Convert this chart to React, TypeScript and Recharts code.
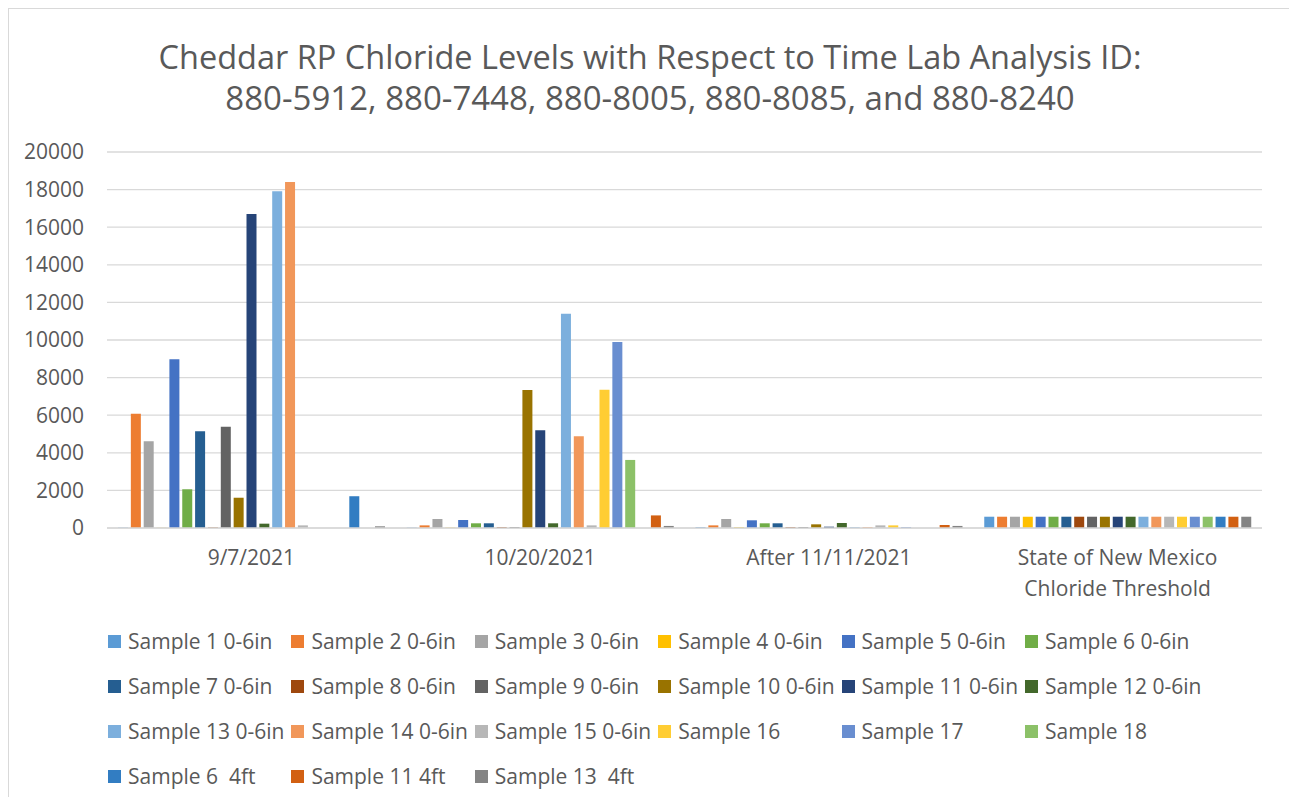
import React from "react";
import { BarChart, Bar, XAxis, YAxis, CartesianGrid, Legend } from "recharts";

const categories = ["9/7/2021", "10/20/2021", "After 11/11/2021", "State of New Mexico Chloride Threshold"];
const yTicks = [0, 2000, 4000, 6000, 8000, 10000, 12000, 14000, 16000, 18000, 20000];

const sample1 = [20, 20, 50, 600];
const sample2 = [6080, 140, 140, 600];
const sample3 = [4610, 480, 480, 600];
const sample4 = [10, 20, 40, 600];
const sample5 = [8970, 425, 410, 600];
const sample6 = [2060, 250, 250, 600];
const sample7 = [5140, 250, 250, 600];
const sample8 = [30, 50, 50, 600];
const sample9 = [5390, 50, 50, 600];
const sample10 = [1610, 7340, 195, 600];
const sample11 = [16700, 5195, 70, 600];
const sample12 = [230, 250, 265, 600];
const sample13 = [17910, 11400, 50, 600];
const sample14 = [18400, 4875, 50, 600];
const sample15 = [140, 140, 140, 600];
const sample16 = [null, 7360, 140, 600];
const sample17 = [null, 9890, 50, 600];
const sample18 = [null, 3620, null, 600];
const sample6_4ft = [1690, null, null, 600];
const sample11_4ft = [null, 670, 160, 600];
const sample13_4ft = [90, 110, 110, 600];

const seriesNames = [
  "Sample 1 0-6in", "Sample 2 0-6in", "Sample 3 0-6in", "Sample 4 0-6in", "Sample 5 0-6in", "Sample 6 0-6in",
  "Sample 7 0-6in", "Sample 8 0-6in", "Sample 9 0-6in", "Sample 10 0-6in", "Sample 11 0-6in", "Sample 12 0-6in",
  "Sample 13 0-6in", "Sample 14 0-6in", "Sample 15 0-6in", "Sample 16", "Sample 17", "Sample 18",
  "Sample 6  4ft", "Sample 11 4ft", "Sample 13  4ft",
];
const seriesValues = [
  sample1, sample2, sample3, sample4, sample5, sample6, sample7, sample8, sample9, sample10, sample11,
  sample12, sample13, sample14, sample15, sample16, sample17, sample18, sample6_4ft, sample11_4ft, sample13_4ft,
];
const seriesColors = [
  "#5B9BD5", "#ED7D31", "#A5A5A5", "#FFC000", "#4472C4", "#70AD47",
  "#255E91", "#9E480E", "#636363", "#997300", "#264478", "#43682B",
  "#7CAFDD", "#F1975A", "#B7B7B7", "#FFCD33", "#698ED0", "#8CC168",
  "#327DC2", "#D26012", "#848484",
];

const data = categories.map((c, i) => {
  const row: any = { name: c };
  seriesValues.forEach((vals, s) => {
    row["s" + s] = vals[i];
  });
  return row;
});

const TEXT = "#595959";
const FONT = "'Open Sans', sans-serif";

function wrap(label: string, maxChars: number) {
  const words = label.split(" ");
  const lines: string[] = [];
  let cur = "";
  words.forEach((w) => {
    const next = cur ? cur + " " + w : w;
    if (next.length > maxChars && cur) {
      lines.push(cur);
      cur = w;
    } else cur = next;
  });
  if (cur) lines.push(cur);
  return lines;
}

const XTick = (props: any) => {
  const { x, y, payload } = props;
  const lines = wrap(String(payload.value), 20);
  return (
    <text x={x} y={y} textAnchor="middle" fill={TEXT} fontSize={21} fontFamily={FONT}>
      {lines.map((l, i) => (
        <tspan key={i} x={x} y={y + 21 + i * 31} dominantBaseline="central">
          {l}
        </tspan>
      ))}
    </text>
  );
};

const LegendContent = (props: any) => {
  const payload = [...(props.payload || [])].sort(
    (a: any, b: any) => seriesNames.indexOf(a.value) - seriesNames.indexOf(b.value)
  );
  return (
    <div style={{ display: "flex", flexWrap: "wrap", width: 1110 }}>
      {payload.map((p: any, i: number) => (
        <div key={i} style={{ width: 183.4, height: 45, display: "flex", alignItems: "center" }}>
          <span style={{ width: 13, height: 13, background: p.color, display: "inline-block", marginRight: 7 }} />
          <span style={{ fontSize: 21, color: TEXT, fontFamily: FONT, whiteSpace: "pre" }}>{p.value}</span>
        </div>
      ))}
    </div>
  );
};

export default function App() {
  return (
    <div
      style={{
        position: "relative",
        marginLeft: -1,
        marginTop: -1,
        width: 1283,
        height: 788,
        borderTop: "2px solid #d9d9d9",
        borderLeft: "2px solid #d9d9d9",
        borderRight: "2px solid #d9d9d9",
        overflow: "hidden",
        fontFamily: FONT,
        background: "#fff",
        boxSizing: "content-box",
      }}
    >
      <div
        style={{
          position: "absolute",
          top: 26.5,
          left: -1,
          width: 1284,
          textAlign: "center",
          color: TEXT,
          fontFamily: FONT,
          lineHeight: "41px",
        }}
      >
        <div style={{ fontSize: 32.5 }}>Cheddar RP Chloride Levels with Respect to Time Lab Analysis ID:</div>
        <div style={{ fontSize: 33 }}>880-5912, 880-7448, 880-8005, 880-8085, and 880-8240</div>
      </div>
      <div style={{ position: "absolute", left: -1, top: -1 }}>
        <BarChart
          width={1284}
          height={789}
          data={data}
          margin={{ top: 144, right: 30, left: 0, bottom: 189 }}
          barSize={10}
          barGap={2.85}
        >
          <CartesianGrid vertical={false} stroke="#d9d9d9" strokeWidth={1.3} />
          <XAxis
            dataKey="name"
            height={80}
            axisLine={{ stroke: "#d9d9d9", strokeWidth: 1.3 }}
            tickLine={false}
            interval={0}
            tick={<XTick />}
          />
          <YAxis
            width={99}
            domain={[0, 20000]}
            ticks={yTicks}
            axisLine={false}
            tickLine={false}
            tickMargin={17}
            interval={0}
            tick={{ fill: TEXT, fontSize: 21, fontFamily: FONT }}
          />
          <Legend
            layout="horizontal"
            verticalAlign="middle"
            align="center"
            wrapperStyle={{ position: "absolute", top: 610.5, left: 100, width: 1110 }}
            content={<LegendContent />}
          />
          {seriesNames.map((n, s) => (
            <Bar key={n} dataKey={"s" + s} name={n} fill={seriesColors[s]} isAnimationActive={false} />
          ))}
        </BarChart>
      </div>
    </div>
  );
}
